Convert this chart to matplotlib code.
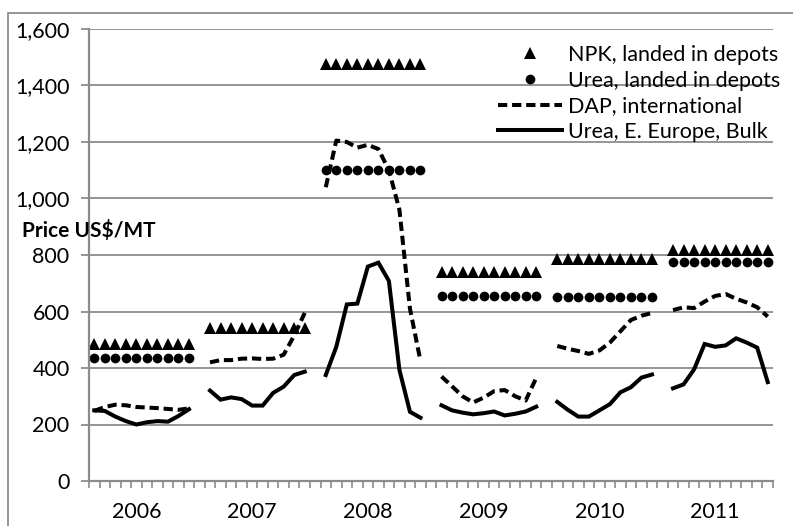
import numpy as np
import matplotlib.pyplot as plt
from matplotlib.patches import Rectangle

plt.rcParams['font.family'] = ['Lato', 'DejaVu Sans']

years = ['2006', '2007', '2008', '2009', '2010', '2011']

# ten monthly observations per year, US$/MT
urea_ee = [
    [250, 248, 228, 212, 200, 208, 212, 210, 230, 254],
    [320, 288, 296, 290, 267, 267, 312, 334, 375, 387],
    [375, 475, 625, 628, 759, 773, 708, 393, 245, 224],
    [268, 250, 242, 236, 240, 246, 232, 238, 246, 263],
    [280, 252, 228, 228, 250, 272, 314, 332, 366, 377],
    [328, 342, 395, 485, 475, 480, 505, 490, 472, 350],
]
dap = [
    [248, 262, 270, 268, 262, 260, 258, 255, 252, 257],
    [420, 428, 428, 433, 434, 432, 433, 447, 515, 595],
    [1040, 1205, 1200, 1180, 1190, 1175, 1100, 960, 610, 425],
    [370, 335, 300, 278, 295, 318, 322, 300, 285, 365],
    [478, 468, 460, 450, 462, 490, 530, 570, 585, 595],
    [605, 615, 612, 635, 655, 662, 645, 632, 615, 582],
]
npk_depot = [485, 543, 1475, 740, 787, 818]
urea_depot = [437, np.nan, 1100, 655, 650, 775]

n = 10
slot = n + 1


def join_years(rows):
    # one NaN slot between years breaks the line
    out = []
    for r in rows:
        out.extend(r)
        out.append(np.nan)
    return np.array(out[:-1], dtype=float)


x = np.arange(len(years) * slot - 1)
y_urea = join_years(urea_ee)
y_dap = join_years(dap)
y_npk = join_years([[v] * n for v in npk_depot])
y_udep = join_years([[v] * n for v in urea_depot])

W, H = 793, 526
fs = 15.5
fig = plt.figure(figsize=(W / 100, H / 100), dpi=100)
ax = fig.add_axes([89 / W, 1 - 481 / H, (773 - 89) / W, (481 - 29) / H])

grid_c = '#8c8c8c'
ax.plot(x, y_npk, ls='none', marker='^', ms=8.5, mew=0, color='black',
        label='NPK, landed in depots')
ax.plot(x, y_udep, ls='none', marker='o', ms=7.0, mew=0, color='black',
        label='Urea, landed in depots')
ax.plot(x, y_dap, color='black', lw=2.9, dashes=(2.3, 1.2),
        label='DAP, international')
ax.plot(x, y_urea, color='black', lw=2.9, solid_joinstyle='miter',
        label='Urea, E. Europe, Bulk')

ax.set_ylim(0, 1600)
ax.set_xlim(-0.5, len(x) - 0.5)
ax.set_yticks(np.arange(0, 1601, 200))
ax.set_yticklabels([f'{v:,}' for v in range(0, 1601, 200)])
ax.yaxis.grid(True, color=grid_c, lw=1.3)
ax.set_axisbelow(True)

ax.set_xticks([slot * k + 4 for k in range(len(years))])
ax.set_xticklabels(years)
ax.set_xticks(np.linspace(-0.5, len(x) - 0.5, len(x) + 1), minor=True)
ax.tick_params(axis='x', which='major', length=0, pad=15, labelsize=fs)
ax.tick_params(axis='x', which='minor', length=5, width=1.2, color=grid_c,
               direction='out')
ax.tick_params(axis='y', length=6, width=1.3, color=grid_c, pad=8,
               labelsize=fs)

for s in ['top', 'right']:
    ax.spines[s].set_visible(False)
for s in ['left', 'bottom']:
    ax.spines[s].set_color(grid_c)
    ax.spines[s].set_linewidth(1.6)

ax.legend(loc='upper left', bbox_to_anchor=((498 - 89) / (773 - 89), 1 - 16 / 452),
          frameon=False, fontsize=fs, handlelength=2.97, handletextpad=0.28,
          labelspacing=0.26, borderpad=0, borderaxespad=0)

fig.text(22 / W, 1 - 231 / H, 'Price US$/MT', fontsize=15, fontweight='bold',
         ha='left', va='center')

fig.patches.append(Rectangle((8 / W, -0.05), 1.0, 1 - 13 / H + 0.05,
                             transform=fig.transFigure, fill=False,
                             edgecolor=grid_c, lw=1.3))

fig.savefig('out.png', dpi=100)
